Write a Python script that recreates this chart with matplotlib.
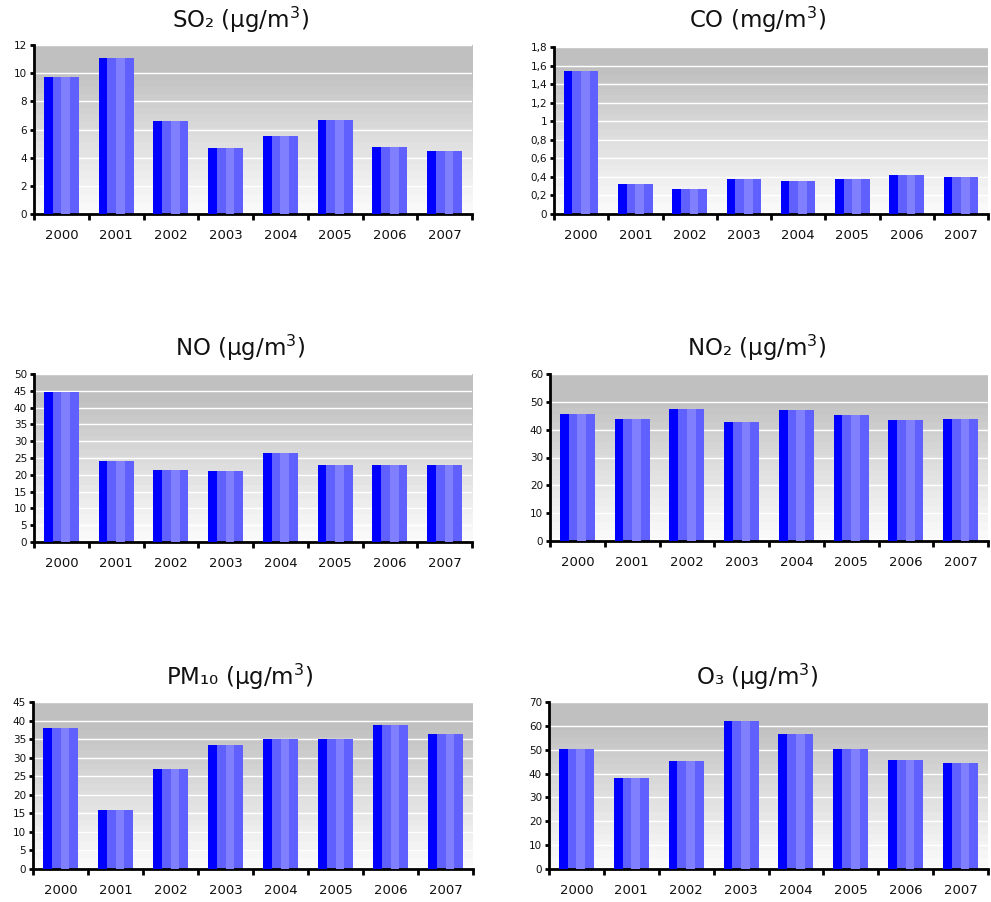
import numpy as np
import matplotlib
matplotlib.use('Agg')
import matplotlib.pyplot as plt
from matplotlib.ticker import MultipleLocator, FuncFormatter, FixedLocator

# Données
annees = ['2000', '2001', '2002', '2003', '2004', '2005', '2006', '2007']
so2 = [9.73, 11.07, 6.6, 4.69, 5.54, 6.67, 4.76, 4.47]
co = [1.54, 0.326, 0.272, 0.379, 0.358, 0.379, 0.422, 0.401]
no = [44.5, 24.2, 21.5, 21.2, 26.5, 23.0, 23.0, 23.0]
no2 = [45.8, 43.7, 47.6, 42.9, 46.9, 45.1, 43.3, 43.7]
pm10 = [37.9, 15.8, 26.9, 33.4, 35.0, 35.0, 38.7, 36.3]
o3 = [50.1, 38.1, 45.1, 62.2, 56.4, 50.1, 45.6, 44.3]

titres = ['SO₂ (µg/m$^3$)', 'CO (mg/m$^3$)', 'NO (µg/m$^3$)', 'NO₂ (µg/m$^3$)',
          'PM₁₀ (µg/m$^3$)', 'O₃ (µg/m$^3$)']
series = [so2, co, no, no2, pm10, o3]
ymax = [12, 1.8, 50, 60, 45, 70]
pas = [2, 0.2, 5, 10, 5, 10]

W, H = 991, 902
fig = plt.figure(figsize=(W / 100, H / 100), dpi=100)

# position des axes en pixels : gauche, droite, haut, bas
boites = [(34, 472, 45, 214), (554, 988, 47, 214),
          (34, 472, 374, 542), (550, 988, 374, 541),
          (33, 473, 702, 869), (549, 988, 702, 869)]
centres_titre = [(240, 20), (757, 20), (240, 348), (757, 348), (240, 677), (757, 677)]

# dégradé du fond
t = np.linspace(0, 1, 200)
gris = 251 - (251 - 192) * np.minimum(t / 0.85, 1) ** 1.1
gris = np.round(gris / 3) * 3 / 255.0
fond = np.repeat(gris[::-1, None], 2, axis=1)

x = np.arange(len(annees))
lb = 0.64

for i in range(6):
    g, d, h, b = boites[i]
    ax = fig.add_axes([g / W, 1 - b / H, (d - g) / W, (b - h) / H])
    ax.imshow(fond, extent=[-0.5, 7.5, 0, ymax[i]], aspect='auto', cmap='gray',
              vmin=0, vmax=1, zorder=0, interpolation='nearest')
    # barre rayée : fond #6060ff, bande claire et bande foncée par-dessus
    ax.bar(x - lb / 2, series[i], width=lb, align='edge', color='#6060ff', linewidth=0, zorder=2)
    ax.bar(x, series[i], width=lb / 4, align='edge', color='#8080ff', linewidth=0, zorder=3)
    ax.bar(x - lb / 2, series[i], width=lb / 4, align='edge', color='#0000ff', linewidth=0, zorder=3)
    ax.set_xlim(-0.5, 7.5)
    ax.set_ylim(0, ymax[i])
    ax.set_axisbelow(True)
    ax.yaxis.set_major_locator(MultipleLocator(pas[i]))
    ax.yaxis.set_major_formatter(FuncFormatter(lambda v, p: f'{v:g}'.replace('.', ',')))
    ax.yaxis.grid(True, color='white', linewidth=1.0, zorder=1)
    ax.xaxis.set_major_locator(FixedLocator(np.arange(-0.5, 8, 1)))
    ax.xaxis.set_major_formatter(FuncFormatter(lambda v, p: ''))
    ax.xaxis.set_minor_locator(FixedLocator(x))
    ax.set_xticklabels(annees, minor=True)
    ax.tick_params(axis='x', which='major', direction='out', length=4, width=2, color='black')
    ax.tick_params(axis='x', which='minor', length=0, pad=11, labelsize=9.5, labelcolor='#111111')
    ax.tick_params(axis='y', direction='out', length=3, width=2, pad=2, labelsize=7.5,
                   labelcolor='#111111')
    for s in ['top', 'right']:
        ax.spines[s].set_visible(False)
    for s in ['left', 'bottom']:
        ax.spines[s].set_linewidth(2)
        ax.spines[s].set_color('black')
    cx, cy = centres_titre[i]
    fig.text(cx / W, 1 - cy / H, titres[i], ha='center', va='center', fontsize=16.5,
             color='#111111')

fig.savefig('out.png', dpi=100)
